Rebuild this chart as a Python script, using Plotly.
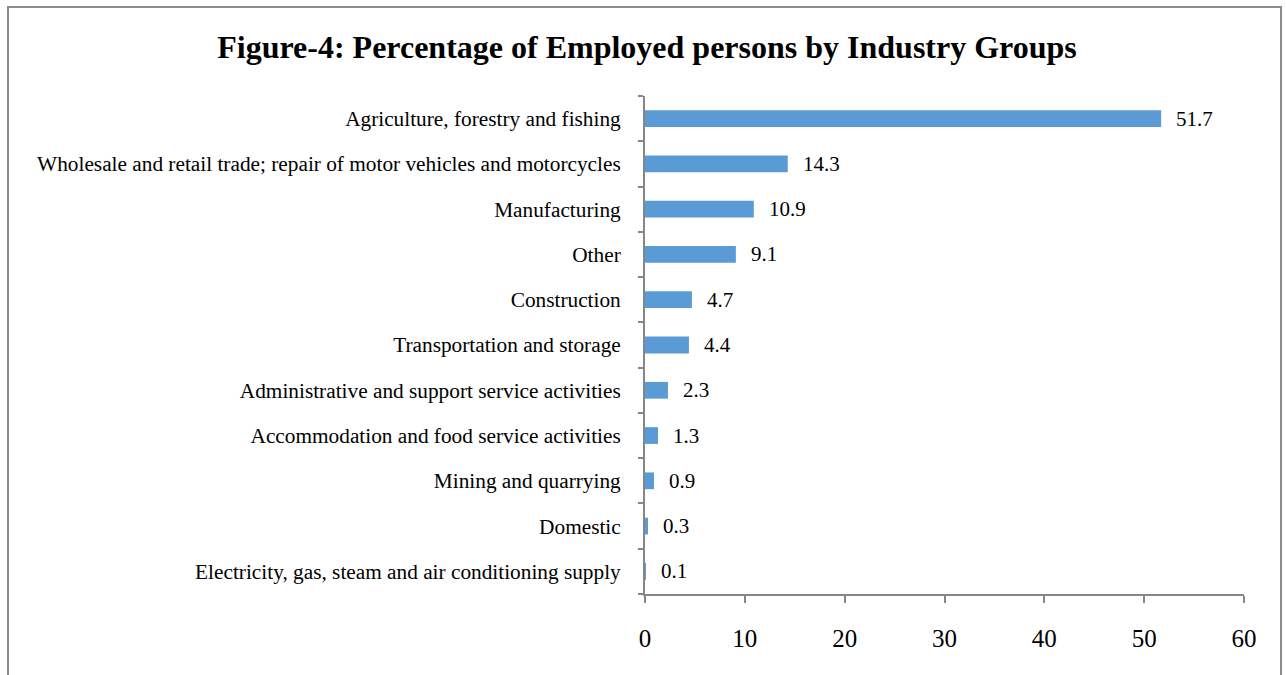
import plotly.graph_objects as go

# Share of employed persons (%) by industry group
industries = [
    "Agriculture, forestry and fishing",
    "Wholesale and retail trade; repair of motor vehicles and motorcycles",
    "Manufacturing",
    "Other",
    "Construction",
    "Transportation and storage",
    "Administrative and support service activities",
    "Accommodation and food service activities",
    "Mining and quarrying",
    "Domestic",
    "Electricity, gas, steam and air conditioning supply",
]
percentages = [51.7, 14.3, 10.9, 9.1, 4.7, 4.4, 2.3, 1.3, 0.9, 0.3, 0.1]
x_ticks = [0, 10, 20, 30, 40, 50, 60]

FONT = "Liberation Serif, Times New Roman, serif"
BAR_COLOR = "#5B9BD5"
AXIS_COLOR = "#868686"

fig = go.Figure(
    go.Bar(
        x=percentages,
        y=industries,
        orientation="h",
        marker=dict(color=BAR_COLOR, line=dict(width=0)),
        hoverinfo="x+y",
    )
)

# value labels to the right of each bar
for name, val in zip(industries, percentages):
    fig.add_annotation(
        x=val, y=name, xref="x", yref="y",
        text=f"{val:.1f}", showarrow=False,
        xanchor="left", yanchor="middle", xshift=13,
        font=dict(family=FONT, size=21, color="#000000"),
    )

# outer frame around the chart
fig.add_shape(
    type="rect", xref="paper", yref="paper",
    x0=-1.0634, x1=1.0618, y0=-0.25, y1=1.1787,
    line=dict(color="#8c8c8c", width=2), fillcolor="rgba(0,0,0,0)",
    layer="below",
)

fig.update_layout(
    width=1286, height=675,
    margin=dict(l=645, r=42, t=96, b=81),
    paper_bgcolor="white", plot_bgcolor="white",
    bargap=0.63,
    showlegend=False,
    title=dict(
        text="<b>Figure-4: Percentage of Employed persons by Industry Groups</b>",
        x=647 / 1286, xref="container", xanchor="center",
        y=1 - 47 / 675, yref="container", yanchor="middle",
        font=dict(family=FONT, size=32, color="#000000"),
    ),
    xaxis=dict(
        range=[0, 60], tickvals=x_ticks, ticktext=[str(t) for t in x_ticks],
        showgrid=False, zeroline=False,
        showline=True, linecolor=AXIS_COLOR, linewidth=2,
        ticks="outside", ticklen=7, tickwidth=2, tickcolor=AXIS_COLOR,
        ticklabelstandoff=14,
        tickfont=dict(family=FONT, size=25, color="#000000"),
        fixedrange=True,
    ),
    yaxis=dict(
        categoryorder="array", categoryarray=industries[::-1],
        autorange=False, range=[-0.5, len(industries) - 0.5],
        showgrid=False, zeroline=False,
        showline=True, linecolor=AXIS_COLOR, linewidth=2,
        ticks="outside", ticklen=5, tickwidth=2, tickcolor=AXIS_COLOR,
        tickson="boundaries",
        ticklabelstandoff=18,
        tickfont=dict(family=FONT, size=21.3, color="#000000"),
        fixedrange=True,
    ),
)

fig.write_html("out.html")
